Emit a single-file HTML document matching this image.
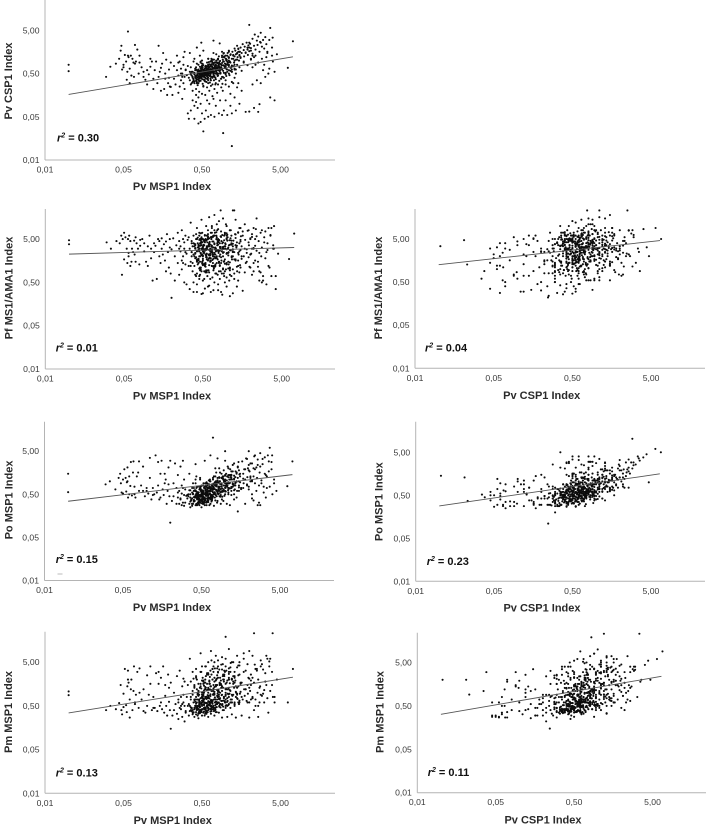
<!DOCTYPE html>
<html lang="en">
<head>
<meta charset="utf-8">
<title>Antibody index scatter plots</title>
<style>
html,body{margin:0;padding:0;background:#fff;}
svg{display:block;filter:blur(.35px);font-family:"Liberation Sans",Arial,sans-serif;}
.tick{font-size:8.6px;fill:#3a3a3a;}
.title{font-size:11px;font-weight:bold;fill:#2a2a2a;}
.r2{font-size:11px;font-weight:bold;fill:#111;}
</style>
</head>
<body>
<svg id="figure" width="709" height="828" viewBox="0 0 709 828" xmlns="http://www.w3.org/2000/svg">
<rect width="709" height="828" fill="#fff"/>
<rect x="57.5" y="573.5" width="5" height="1" fill="#bbb"/>
</svg>
<script>
const tickValues = [0.005, 0.05, 0.5, 5];
const tickLabels = ['0,01', '0,05', '0,50', '5,00'];

const pvMSP1 = [
.01,.01,7.2,6.2,1.2,.93,.52,.84,1.2,1.25,.7,1,2.3,3.97,.2,.057,.047,3.7,2,4.2,
.03,.034,.04,.044,.046,.048,.05,.05,.052,.054,.055,.056,.057,.058,.06,.06,.062,.063,.065,.067,
.068,.07,.07,.072,.075,.078,.08,.08,.085,.09,.09,.095,.1,.1,.105,.11,.11,.115,.12,.12,
.125,.13,.135,.14,.14,.145,.15,.15,.155,.16,.165,.17,.17,.175,.18,.185,.19,.19,.195,.2,
.21,.22,.22,.23,.24,.24,.25,.25,.26,.26,.27,.27,.28,.28,.29,.29,.3,.3,.3,.31,
.33,.34,.36,.38,.38,.4,.4,.42,.42,.42,.44,.45,.45,.46,.48,.48,.5,.5,.52,.54,
.55,.56,.58,.58,.6,.62,.62,.65,.65,.68,.7,.72,.72,.75,.78,.8,.82,.85,.88,.9,
.92,.95,1,1,1.05,1.1,1.15,1.15,1.2,1.25,1.3,1.35,1.4,1.45,1.5,1.6,1.8,2,2.2,2.6,
.34,.35,.36,.37,.38,.38,.39,.4,.4,.41,.42,.42,.43,.44,.44,.45,.46,.47,.48,.49,
.45,.46,.47,.48,.49,.5,.5,.51,.52,.52,.53,.54,.55,.55,.56,.57,.58,.58,.59,.6,
.5,.52,.53,.55,.56,.58,.6,.6,.61,.62,.63,.64,.65,.65,.66,.67,.68,.69,.7,.7,
.6,.62,.64,.66,.68,.7,.71,.72,.73,.74,.75,.76,.77,.78,.79,.8,.82,.83,.84,.85,
.75,.78,.8,.82,.85,.87,.9,.9,.92,.93,.95,.96,.98,1,1,1.02,1.05,1.07,1.1,1.1,
.44,.47,.49,.51,.53,.54,.56,.57,.59,.6,.62,.63,.65,.67,.48,.5,.55,.58,.61,.64,
.37,.39,.4,.41,.43,.44,.45,.46,.47,.48,.49,.5,.51,.52,.53,.54,.42,.44,.46,.48,
.72,.75,.78,.8,.83,.86,.88,.9,.93,.96,1,1.04,1.08,1.12,1.16,1.2,1.25,1.3,1.35,1.4,
1,1.03,1.06,1.1,1.13,1.16,1.2,1.22,1.25,1.28,1.3,1.33,1.36,1.4,1.42,1.45,1.48,1.5,1.52,1.55,
1.3,1.35,1.4,1.45,1.5,1.55,1.6,1.65,1.7,1.72,1.75,1.8,1.85,1.9,1.92,1.95,2,2.05,2.1,2.2,
2,2.1,2.2,2.3,2.35,2.4,2.5,2.55,2.6,2.7,2.75,2.8,2.9,3,3.1,3.2,3.3,3.4,3.6,3.9,
2.1,2.2,2.4,2.5,2.6,2.7,2.9,3,3.1,3.2,3.3,3.5,3.6,3.7,3.9,4,4.2,4.5,2.3,2.8,
.35,.42,.48,.55,.6,.65,.7,.75,.8,.9,1,1.1,1.3,1.5,1.7,1.9,2.2,2.4,2.8,3.4,
.38,.42,.45,.48,.5,.53,.56,.6,.63,.66,.7,.74,.78,.82,.88,.95,1,1.1,1.2,1.4,
.36,.4,.43,.46,.5,.53,.57,.6,.64,.68,.72,.76,.8,.85,.9,.95,1,1.1,1.2,1.3,
.41,.43,.45,.47,.49,.51,.53,.55,.57,.59,.61,.63,.65,.67,.69,.71,.73,.75,.77,.79,
.38,.42,.46,.5,.54,.58,.62,.66,.7,.74,.78,.82,.86,.9,.94,.98,1.02,1.06,1.1,1.15,
.45,.47,.49,.5,.52,.54,.56,.58,.6,.62,.64,.66,.68,.7,.72,.74,.55,.6,.65,.5,
.9,.95,1,1.05,1.1,1.15,1.2,1.25,1.3,1.35,1.4,1.45,1.5,1.55,1.6,1.7,1.8,1.9,2,2.1,
.42,.48,.52,.56,.6,.64,.68,.72,.76,.8,.84,.88,.92,.96,1,1.05,1.1,1.15,1.2,1.3,
.36,.39,.43,.47,.51,.55,.59,.63,.67,.71,.75,.79,.83,.87,.91,.95,.44,.52,.6,.68,
.25,.27,.29,.31,.33,.35,.37,.39,.41,.43,.45,.47,.49,.28,.32,.36,.4,.44,.48,.52,
.46,.5,.54,.58,.62,.66,.7,.74,.78,.82,.48,.52,.56,.6,.64,.68,.72,.76,.8,.84,
.4,.44,.49,.53,.57,.61,.65,.69,.73,.77,.81,.85,.89,.93,.97,1.01,1.05,1.09,1.13,1.17
];

const pvCSP1 = [
.8,.57,2.8,.68,.0105,.021,.023,2.5,.77,1.1,2.9,.83,1.2,3.4,.245,4.7,2.2,5.7,6.7,.12,
.42,.72,.85,1.1,1.7,.62,.7,.8,1.35,.95,.36,.55,1.3,1.2,.3,.65,1.3,.45,1.1,.9,
.42,2.3,.85,.95,1.8,.5,.9,1.3,.7,.42,.55,.36,.6,.28,.48,.72,1.1,.95,.22,.38,
.6,.95,.3,.42,2.2,.55,.2,.68,.85,1.5,.22,.38,.5,1.05,.16,.3,.62,.4,.25,.9,
.16,.38,.75,.28,.6,1.3,.18,.45,.25,.95,.35,.65,.13,.5,.3,.8,.22,.42,1.6,.6,
.06,.045,.07,.12,.2,.045,.09,.16,.22,.11,.08,.035,.14,.19,.038,.1,.06,.17,.25,.045,
.16,.07,.24,.12,.05,.2,.1,.26,.055,.15,.13,.22,.05,.09,.18,.28,.06,.12,.24,.055,
.2,.07,.28,.12,.055,.25,.09,.17,.06,.3,.14,.07,.24,.3,.1,.2,.065,.066,.28,.065,
.4,.35,.48,.3,.42,.55,.37,.33,.5,.44,.38,.6,.32,.46,.41,.36,.52,.43,.34,.47,
.5,.58,.42,.65,.38,.55,.47,.7,.44,.6,.36,.52,.66,.4,.56,.48,.74,.43,.62,.5,
.62,.78,.5,.72,.58,.9,.46,.68,.55,.82,.6,.48,.75,.64,.52,.95,.7,.57,.8,.66,
.8,.62,.95,.72,.58,.85,1.05,.68,.9,.6,.78,1,.7,.88,.64,1.1,.76,.92,.66,.84,
.9,.75,1.1,.82,.98,.7,1.2,.88,1.05,.78,.95,1.25,.85,1.1,.72,1,1.3,.9,1.15,.8,
.46,.52,.6,.44,.57,.64,.49,.6,.54,.68,.58,.72,.62,.74,.42,.5,.54,.45,.66,.56,
.45,.38,.52,.41,.36,.5,.43,.39,.47,.54,.4,.44,.37,.49,.42,.46,.34,.55,.35,.58,
.55,.65,.48,.6,.72,.52,.68,.42,.58,.75,.5,.62,.8,.46,.68,.55,.74,.4,.62,.8,
1.3,1.05,1.5,1.2,.95,1.4,1.1,1.6,1.3,.9,1.25,1.7,1.05,1.45,1.2,1.85,1,1.35,1.6,1.15,
1.9,1.4,2.2,1.6,1.3,2,1.5,2.4,1.75,1.25,2.1,1.55,2.6,1.8,1.35,2.25,1.65,2.45,1.95,1.45,
2.6,1.7,3.2,2.2,4,1.8,2.9,2.3,3.6,1.6,2.7,4.4,2.1,3,1.9,3.5,2.4,1.5,3,2,
1.05,.7,1.3,.35,.9,.098,1.1,.6,.8,.42,1.2,.5,.65,.14,1.3,.95,.55,1.4,.08,.3,
.55,.7,.9,.45,1.1,.6,1.5,.8,.5,1.3,.35,1,.65,1.6,.9,2,1.3,.8,2.6,1.6,
.4,.62,.3,.5,.85,.42,.7,.35,.55,1.1,.48,.28,.9,.6,.38,1.2,.52,.75,.32,1.5,
.7,.3,.85,.33,1,.36,.32,1.1,.38,.4,.42,1.4,.45,.5,1.6,.52,.48,.6,.55,.62,
.6,.46,.36,.72,.44,.84,.52,.33,.66,.39,.92,.5,.35,.58,1.05,.43,.74,.37,.62,.47,
.32,.42,.56,.76,.34,.64,.44,1,.54,.4,.68,1.25,.5,.62,1.45,.72,.44,.88,1.6,.58,
.62,.5,.7,.42,.6,.47,.76,.52,.4,.7,.46,.82,.54,.44,.66,.5,.58,.8,.42,.74,
.65,1.5,.75,.55,1.7,.9,.62,1.35,.8,.5,1.05,1.9,.7,1.2,.58,.95,1.5,.78,2,1.1,
.45,.5,.62,.38,.75,.52,.9,.44,.68,1.05,.56,.8,.42,1.2,.66,.95,.5,1.35,.72,1,
.28,.35,.3,.4,.29,.33,.37,.31,.42,.35,.3,.44,.34,.38,.29,.4,.27,.26,.3,.28,
.9,.5,1.2,.62,.75,1.5,.55,.95,.65,2,.8,1.3,2.6,.42,.46,.5,1.1,.6,.95,1.7,
.55,.66,.48,.6,.72,.58,.5,.78,.62,.7,.45,.53,.69,.47,.8,.6,.9,.56,.85,.66,
.48,.4,.57,.44,.5,.61,.55,.65,.73,.52,.87,.6,.77,.95,.67,1.1,.8,1.2,.92,.7
];

const pfMS1AMA1 = [
4.7,3.8,6.7,1.73,3.4,4.7,1.28,23,23,23,8,6,5,3,.22,2,.75,9,5,.7,
4.2,3,4.5,4,6,5,7,1.7,5.5,3,1.4,5,2.4,6,1.2,4.5,1.5,3,2.5,4.6,
2.2,5.5,1.5,4,3,1.3,4.8,3.5,5,2.6,4,1.5,3.4,1.2,6,3,1.8,.55,2.5,4,
3.5,.6,5,2,4.5,1.4,3,5.2,2.2,3.8,1.6,4.4,.9,6.5,2.5,1.1,3.2,5,.8,2.9,
5.2,2,.55,3.6,1.4,7,4.5,.75,2.6,3.4,1,8,2,5,.5,3,1.3,6,2.5,.45,
1.2,.35,4,2.2,.5,3,.75,5,1.5,.3,2.8,.6,6,1.1,.9,3.6,.28,2,4.5,1.4,
.9,3,.4,5,1.8,2.6,.6,7,1.2,.33,3.8,.8,2.2,5.5,.45,1.5,4,.3,2.9,1,
2.5,.5,5,1.3,3.2,.24,.7,6,2,.6,3.6,.4,1.6,.85,4.4,.32,2.4,1.1,3,.55,
3,1.5,4.5,.9,2.2,6,1.2,3.6,1.8,5,2.6,.8,4,1.4,3.2,7,2,1,5.5,2.8,
2,4,1.1,3,7,1.6,5,2.4,.9,3.6,6,1.3,2.8,4.6,1.9,.7,3.4,8,2.2,5.2,
2.6,1.3,4.2,3,1.7,6.5,2.2,.85,3.8,1.5,5.5,2.8,10,1.2,4.4,2,3.2,1.05,6,2.4,
3.4,1.6,5,2.2,.95,4,7,1.3,2.9,6,1.8,3.6,.75,8.5,2.4,4.8,1.2,3.1,5.8,1.9,
2,5,1.4,3.3,7.5,2.6,1.05,4.2,.8,6,1.7,3,11,2.3,.65,4.6,1.5,3.6,8,2.8,
3.6,2.3,1.5,4.8,2.9,1.15,6,3.3,1.75,4,2.1,7,2.7,1.4,5,3.1,1.9,.95,3.8,2.5,
1.4,3.9,2.4,.7,5.4,1.7,3,.95,6.8,2.1,4.2,1.25,3.5,.6,2.7,5,1.6,3.3,.75,4.4,
1.2,2.8,4.6,.9,3.2,1.6,6.2,2.4,.7,4,1.4,3,.55,5.2,1.9,2.6,.8,3.6,1.15,7,
2.9,5.5,1.3,3.7,8,2,1,4.6,2.5,6.5,1.6,3.2,.9,7.2,2.2,4,1.25,2.8,5.8,1.75,
1.7,4.2,2.4,9,1.1,3.4,6,2,.85,4.8,1.4,2.9,7.8,1.9,3.6,1.15,5.2,2.3,.75,3.1,
2.2,6.5,1.4,3.5,8.5,2.7,1.15,4.5,.9,7,2,3.2,.7,5.5,1.8,2.5,4,1.2,6.2,3,
3,.9,5.8,1.5,2.4,.85,.55,4.2,7.5,.45,2.8,1.1,6,.7,3.6,10,.35,2.3,1.6,.5,
12,9,14,10,16,9,18,11,13,15,10,8,14,9,11,8,9,15,8,9,
.3,.45,.7,.27,.55,.36,.85,.42,.3,.65,.5,.8,.33,.6,.26,.9,.4,.75,.28,.55,
2.5,3.8,1.6,5,2.9,1.2,4.2,2.1,3.4,6,1.8,2.7,4.6,1.4,3.1,7,2.3,1.05,3.9,5.3,
1.9,3.2,4.8,2.4,1.35,3.7,6.2,2.05,2.9,.95,4.3,1.55,3.5,5.6,2.2,1.15,3,4.9,1.7,2.6,
4,2.7,1.5,3.3,.85,5.4,2.3,1.65,3.9,7.2,2.8,1.25,4.5,2,3.4,1,6.3,2.5,1.45,3.7,
2.6,4.1,3,1.75,4.7,2.2,3.4,5.8,2.8,1.5,3.6,2.4,4.4,1.95,3.2,5,2.1,3.8,2.9,1.3,
3.3,1.35,5.2,2.4,.95,4,2.9,1.7,6.4,3.5,1.2,2.6,4.8,2,7.5,3,1.5,4.2,2.2,5.6,
1.7,3,4.4,2.3,1.25,5.6,3.2,1.9,8,2.7,.9,4,1.5,3.4,6.8,2.1,1.1,4.6,2.5,3.6,
2,3.4,1.3,4.6,2.6,.95,3.6,1.8,5.8,2.9,1.4,4.2,2.2,.8,3,6.5,1.6,2.4,3.8,1.15,
3,1.6,4.2,2.3,5.5,1.2,3.4,2,6.5,2.7,1.05,3.9,2.2,1.4,4.8,2.5,3.1,1.75,5.2,2.85,
3.5,2.1,4.9,1.6,3,2.5,6,1.9,3.7,2.7,4.4,1.35,3.2,2.2,5.3,1.75,2.9,4,1.5,3.3,
2.3,3.7,1.45,2.9,4.9,1.85,3.3,1.2,2.6,4.3,2,5.6,3.1,1.55,3.8,2.4,1.05,4.7,2.75,1.7
];

const poMSP1 = [
1.5,.56,2.9,.77,1.42,1.3,.37,2,1.2,.9,10.3,3,2,4,.11,1,.9,6,5,.9,
.85,1,.65,1.2,1.5,.55,.52,1.1,1.9,1.2,.58,.95,2.1,.42,.5,1.3,.78,2.8,.47,1.6,
2.9,.75,.5,.42,1.3,1.6,.6,2.9,.8,.6,2.2,.45,.6,.7,.52,1.2,3.5,.38,.48,.7,
.5,4,.55,2.8,.8,.38,1.5,.42,3,.65,.48,.9,1.5,1.1,.3,.6,.85,2.1,.45,3,
.35,.9,.45,2.6,.3,.7,.42,1.4,.3,.6,2.2,.38,.52,.8,.32,3,.48,.27,1.1,.65,
.4,.5,.25,.7,.3,.6,.35,1.1,.42,.9,.28,.52,.75,.3,.45,1.2,.55,.25,.8,.38,
.32,.62,.9,.28,.5,.42,1.05,.3,.7,.38,.55,1.3,.27,.8,.45,.35,.95,.6,.3,1.2,
.6,.35,.8,1.1,.3,.55,.28,1.4,.48,.75,.38,.9,.42,.2,.6,.7,.3,.65,.5,.28,
.45,.3,.62,.38,.55,.27,.5,.7,.34,.42,.6,.48,.28,.75,.4,.52,.33,.65,.44,.36,
.42,.55,.33,.68,.46,.38,.8,.52,.3,.6,.44,.72,.36,.5,.9,.4,.58,.34,.65,.47,
.5,.62,.4,.75,.55,.95,.46,.7,.36,.6,.85,.52,.42,1,.66,.48,.78,.58,1.2,.44,
.7,.5,1.1,.6,.85,.45,.75,1.3,.55,.95,.65,.48,1.6,.8,.58,1.05,.7,.52,1.25,.88,
.9,.62,1.2,.75,1,.55,1.5,.85,.68,1.15,.6,1.8,.95,.72,1.35,.58,1.05,.8,2,.9,
.38,.48,.6,.34,.52,.42,.66,.46,.56,.38,.72,.5,.62,.44,.32,.54,.41,.74,.48,.59,
.36,.52,.43,.62,.3,.4,.56,.34,.47,.7,.38,.5,.44,.32,.58,.41,.28,.46,.55,.35,
.85,1.3,.62,1.05,.72,1.6,.55,.9,1.2,.65,1.4,.8,2.2,.7,1.1,.6,1.7,.5,.95,1.5,
1,1.5,.75,1.25,.9,1.9,.7,1.1,2.4,.85,1.35,.65,1.7,1,.6,1.2,2.8,.8,1.45,.95,
1.15,.8,1.6,2.2,1,1.3,.7,2.9,1.5,.9,1.9,1.1,3.4,.85,1.25,2,.75,1.7,2.6,1.05,
1.8,1,2.6,1.3,3.8,.9,2.1,1.2,3.2,.8,1.6,4.5,1.05,2.5,.75,3.6,1.4,.7,2.9,1.9,
1.2,.4,1.9,.6,2.4,.32,.9,3.3,.55,1.5,.42,4,1.7,.75,2.8,.5,1.1,.6,.36,.28,
1.5,2.5,1.1,3,.8,4,.7,2,3.4,1.2,5,.9,2.6,1.8,.7,3.3,1,4,2.2,1.3,
.4,.6,.32,.75,.5,.9,.36,.55,.28,.7,1.1,.42,.85,.6,.48,1.3,.5,.95,.7,1.6,
.5,.34,.7,.42,.62,.3,.55,.88,.4,.48,.66,1,.52,.75,1.2,.6,.9,.7,1.35,.8,
.35,.58,.44,.28,.66,.4,.52,.37,.78,.46,.33,.6,.5,.7,.41,.88,.55,.36,.63,.95,
.3,.45,.38,.56,.33,.48,.68,.4,.84,.52,.62,.74,1,.58,1.15,.46,.8,1.3,.67,.92,
.48,.39,.6,.35,.44,.7,.5,.32,.58,.42,.76,.46,.36,.64,.54,.82,.4,.52,.68,.31,
.75,1.1,.58,.9,1.4,.68,1.7,.85,.62,1.25,.98,2.1,.72,1.5,.66,1.15,1.9,.8,2.4,1.3,
.62,.48,.8,.4,.56,1,.46,.7,.9,.54,1.2,.66,.44,1.05,.6,.78,.5,1.4,.74,1.1,
.42,.3,.52,.36,.46,.28,.6,.4,.34,.72,.5,.32,.64,.44,.38,.8,.29,.56,.35,.48,
.55,.4,.7,.32,.48,.62,.36,.9,.44,1.3,.52,.38,.75,.28,.46,.34,.6,.42,.66,.5,
.46,.6,.38,.52,.72,.44,.64,.56,.86,.5,.36,.48,.68,.41,.58,.78,.5,.92,.62,.7,
.37,.5,.44,.33,.56,.47,.38,.66,.53,.76,.6,.45,.84,.57,.98,.7,.88,.62,1.1,1.25
];

const pmMSP1 = [
1.07,.88,3.5,.6,2,2,.91,1.5,2,.9,4,19,23,23,.15,2,.4,6,9,.8,
.4,.5,.42,.58,1.5,.32,.47,.95,3.5,.52,.36,1.4,3.2,1.7,.27,.7,1.2,2,.4,1.1,
4,.6,.55,.9,3,.45,1,3.6,.7,.38,1.2,.35,.5,2.5,.9,1.6,4,.4,.45,.8,
.45,2.8,.38,1.6,3,.5,.6,2.2,.42,4,.35,.85,1.5,.5,.3,2.6,.62,1.3,.4,1.7,
.3,.4,1,.55,2.4,.33,.7,.25,3.2,.45,.8,.5,1.4,.28,2.1,.6,.22,.5,1.8,.38,
.5,.3,1.8,.4,.9,.28,1.4,.45,2.4,.32,.7,1.1,.26,.55,3,.38,.8,.3,1.6,.6,
1.2,.36,.5,2.6,.28,.75,1.9,.33,.6,3.5,.42,.9,.3,1.5,.55,2.2,.35,1,.65,.27,
.4,2,.6,1.2,.28,.8,3,.45,.32,1.6,.55,.27,.9,2.5,.6,.3,1.2,.27,.75,.5,
.55,.38,.8,.45,.32,1.1,.6,.42,1.5,.5,.36,.7,2,.44,.9,.34,.65,1.3,.4,.58,
.42,.7,.55,1.4,.38,.9,.5,2.2,.62,.35,1.1,.46,.8,1.7,.4,.58,2.8,.48,.75,1.2,
.6,1,.45,.75,2.4,.52,1.3,.4,.85,1.8,.55,3.2,.68,.48,1.1,.62,2,.9,.5,1.5,
.8,1.6,.5,2.6,.65,1.2,.45,.95,3.6,.7,1.4,.55,2.1,.85,.6,4,1.05,.5,1.7,.75,
1.4,.7,3,.9,.55,1.9,1.1,.65,4.5,1.3,.8,2.4,.6,1.6,1,3.2,.75,1.2,.55,2,
.48,.62,.4,.85,.55,1.2,.44,.72,.36,1,.52,1.6,.66,.46,.37,.78,1.35,.58,.43,.92,
.44,.35,.68,.5,.4,.95,.33,.6,.46,.38,1.25,.54,.42,.72,.37,.3,.8,.48,.36,1.6,
2.2,.62,1.15,.8,3.4,.55,1.5,.9,.48,2.6,.7,1.2,.52,.95,4.8,.6,1.8,.5,1.05,.75,
.9,1.7,.65,3,1.15,.7,2.1,.85,5,1.3,.6,1.9,1,3.8,.72,1.4,.55,2.6,.95,1.6,
2.4,.8,1.3,.6,4.2,1.05,1.7,.7,6,1.2,.85,3.2,.65,1.5,.95,2.2,.6,1.1,1.9,.75,
1.3,2.6,.8,1.7,4.4,.7,3.2,1,2,.6,1.4,5.5,.85,3.4,1.15,1.8,7,.75,4,1.5,
.7,2.2,.5,3.5,.28,1.3,4.5,.95,.6,2.8,1.5,.35,5.2,1.1,3,.8,.6,2,.4,.9,
6,3.5,8,4,5,9,3,7,5.5,6.5,4,10,3,5,8,4.5,7,3.5,4,6,
3,.5,1.6,.4,4,.7,.36,2.6,.55,5.5,.9,.42,3.6,.6,1.3,.8,.45,2.2,.6,7,
.7,.45,1.2,.38,1.9,.52,.8,2.8,.42,.65,1.05,1.5,.58,2.2,3.4,.75,.5,1.3,.9,1.7,
.62,.41,1,.5,.36,.74,1.45,.46,.33,.88,.54,2.3,.43,.68,1.1,.38,.6,1.9,.47,.8,
.35,.56,.9,.42,1.7,.36,.62,.5,1.25,.4,2.5,.82,.46,1.4,.66,3,.52,.95,2,.6,
.85,.48,.38,.66,1.05,.42,.58,1.6,.44,.74,.37,1.15,.56,.9,1.35,.46,2,.64,.5,1,
.52,1.8,.85,.62,3.6,1.1,.7,2.4,.55,1.4,.95,4.2,.66,1.7,.8,3,1.2,.6,2.1,1.5,
2.2,3,1.8,4,2.6,1.4,3.5,5,2,2.9,1.6,4.4,2.4,3.2,6,1.9,2.7,3.8,5,2.2,
.46,.36,.6,.4,.78,.33,.52,1.2,.42,.7,.36,.95,.48,1.6,.55,.4,.3,.85,.44,.62,
.6,.42,.9,.35,1.5,.5,.38,2.1,.7,.45,1.1,.34,3,.55,.8,.4,1.3,.5,.75,1.9,
.5,.8,.43,1.15,.6,.38,.95,.52,1.5,.72,.4,.66,1.3,.46,.84,.56,1.8,.62,1.05,.7,
.7,.44,.56,1,.39,.62,1.4,.47,.78,.36,1.15,.54,.88,2.6,.64,1.25,.5,.92,1.65,.6
];

const trendXMSP1 = [0.01, 7.2];
const trendXCSP1 = [0.01, 6.5];
const trendCSPvsMSP = [0.165, 1.22];
const trendPfvsMSP = [2.25, 3.2];
const trendPfvsCSP = [1.27, 4.6];
const trendPovsMSP = [0.345, 1.43];
const trendPovsCSP = [0.283, 1.58];
const trendPmvsMSP = [0.346, 2.27];
const trendPmvsCSP = [0.32, 2.4];

const panels = [
  {key:'pv-csp1-vs-pv-msp1', xs:pvMSP1, ys:pvCSP1, tx:trendXMSP1, ty:trendCSPvsMSP, xTitle:'Pv MSP1 Index', yTitle:'Pv CSP1 Index', r2:'0.30',
   x0:45, xd:78.5, xEnd:335, y0:160, yd:43.2, yTop:0, xtC:172, xtB:190, ytB:12, ytC:81, rX:57, rY:141.7},
  {key:'pf-vs-pv-msp1', xs:pvMSP1, ys:pfMS1AMA1, tx:trendXMSP1, ty:trendPfvsMSP, xTitle:'Pv MSP1 Index', yTitle:'Pf MS1/AMA1 Index', r2:'0.01',
   x0:45.3, xd:78.8, xEnd:335, y0:369, yd:43.3, yTop:209, xtC:172, xtB:399.3, ytB:12.5, ytC:288, rX:55.7, rY:351.7},
  {key:'pf-vs-pv-csp1', xs:pvCSP1, ys:pfMS1AMA1, tx:trendXCSP1, ty:trendPfvsCSP, xTitle:'Pv CSP1 Index', yTitle:'Pf MS1/AMA1 Index', r2:'0.04',
   x0:415, xd:78.7, xEnd:705, y0:368.3, yd:43.1, yTop:209, xtC:541.7, xtB:399, ytB:382, ytC:288, rX:425, rY:351.7},
  {key:'po-vs-pv-msp1', xs:pvMSP1, ys:poMSP1, tx:trendXMSP1, ty:trendPovsMSP, xTitle:'Pv MSP1 Index', yTitle:'Po MSP1 Index', r2:'0.15',
   x0:44.5, xd:78.5, xEnd:334, y0:580.5, yd:43.1, yTop:421.7, xtC:172, xtB:611, ytB:12.5, ytC:500, rX:55.7, rY:563},
  {key:'po-vs-pv-csp1', xs:pvCSP1, ys:poMSP1, tx:trendXCSP1, ty:trendPovsCSP, xTitle:'Pv CSP1 Index', yTitle:'Po MSP1 Index', r2:'0.23',
   x0:415.7, xd:78.4, xEnd:705, y0:581.3, yd:43, yTop:421.7, xtC:542, xtB:611.7, ytB:382.5, ytC:501.7, rX:426.7, rY:565},
  {key:'pm-vs-pv-msp1', xs:pvMSP1, ys:pmMSP1, tx:trendXMSP1, ty:trendPmvsMSP, xTitle:'Pv MSP1 Index', yTitle:'Pm MSP1 Index', r2:'0.13',
   x0:45, xd:78.5, xEnd:335, y0:793.3, yd:43.7, yTop:631.7, xtC:172.7, xtB:824, ytB:12, ytC:712, rX:55.7, rY:776.7},
  {key:'pm-vs-pv-csp1', xs:pvCSP1, ys:pmMSP1, tx:trendXCSP1, ty:trendPmvsCSP, xTitle:'Pv CSP1 Index', yTitle:'Pm MSP1 Index', r2:'0.11',
   x0:417.3, xd:78.4, xEnd:706, y0:792.7, yd:43.4, yTop:632.7, xtC:543, xtB:823.3, ytB:383.5, ytC:712, rX:427.7, rY:776}
];

const NS = 'http://www.w3.org/2000/svg';
const root = document.getElementById('figure');
const LOG_MIN = Math.log10(tickValues[0]);

function make(tag, attrs, parent, text) {
  const node = document.createElementNS(NS, tag);
  for (const k in attrs) node.setAttribute(k, attrs[k]);
  if (text !== undefined) node.textContent = text;
  parent.appendChild(node);
  return node;
}

panels.forEach(function (p) {
  const sx = function (v) { return p.x0 + (Math.log10(v) - LOG_MIN) * p.xd; };
  const sy = function (v) { return p.y0 - (Math.log10(v) - LOG_MIN) * p.yd; };

  const g = make('g', {}, root);
  
  

  const xAxis = make('line', {x1:p.x0, x2:p.xEnd, y1:p.y0, y2:p.y0, stroke:'#b4b4b4', 'stroke-width':1}, g);
  
  

  const yAxis = make('line', {x1:p.x0, x2:p.x0, y1:p.yTop, y2:p.y0, stroke:'#b4b4b4', 'stroke-width':1}, g);
  
  

  tickValues.forEach(function (v, i) {
    const xl = make('text', {x:sx(v), y:p.y0 + 12.5, 'text-anchor':'middle', class:'tick'}, g, tickLabels[i]);
    
    

    const yl = make('text', {x:p.x0 - 5.5, y:sy(v) + 3, 'text-anchor':'end', class:'tick'}, g, tickLabels[i]);
    
    
  });

  const dots = make('g', {fill:'#0c0c0c'}, g);
  
  
  const n = Math.min(p.xs.length, p.ys.length);
  for (let i = 0; i < n; i++) {
    const c = make('circle', {cx:sx(p.xs[i]).toFixed(2), cy:sy(p.ys[i]).toFixed(2), r:1.05}, dots);
    
    
  }

  const trend = make('line', {x1:sx(p.tx[0]), y1:sy(p.ty[0]), x2:sx(p.tx[1]), y2:sy(p.ty[1]), stroke:'#555', 'stroke-width':0.9}, g);
  
  

  const xt = make('text', {x:p.xtC, y:p.xtB, 'text-anchor':'middle', class:'title'}, g, p.xTitle);
  
  

  const yt = make('text', {x:0, y:0, 'text-anchor':'middle', class:'title', transform:'translate(' + p.ytB + ' ' + p.ytC + ') rotate(-90)'}, g, p.yTitle);
  
  

  const r = make('text', {x:p.rX, y:p.rY, class:'r2'}, g);
  
  
  make('tspan', {'font-style':'italic'}, r, 'r');
  make('tspan', {dy:-4, 'font-size':7, 'font-style':'italic'}, r, '2');
  make('tspan', {dy:4}, r, ' = ' + p.r2);
});
</script>
</body>
</html>
